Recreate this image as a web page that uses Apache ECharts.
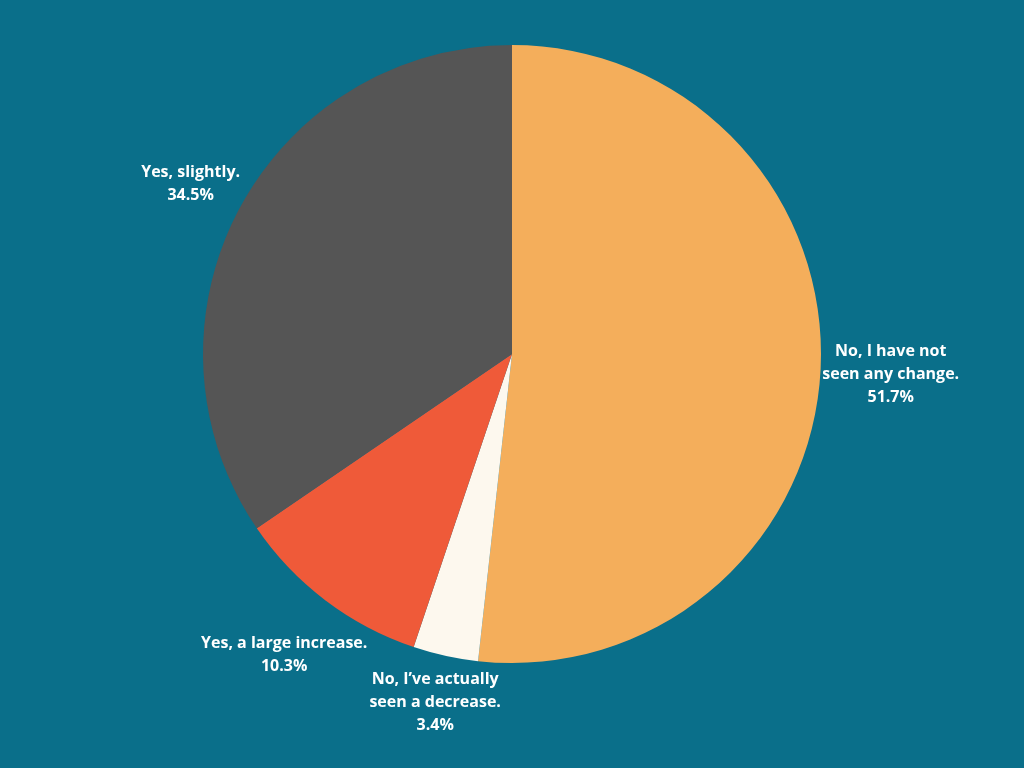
<!DOCTYPE html>
<html>
<head>
<meta charset="utf-8">
<script src="https://cdn.jsdelivr.net/npm/echarts@6/dist/echarts.min.js"></script>
<style>
  html, body { margin: 0; padding: 0; background: #0a6f8a; }
  #pieChart { width: 1024px; height: 768px; }
</style>
</head>
<body>
<div id="pieChart"></div>
<script>
// answers, clockwise from the top
const categories = [
  'No, I have not\nseen any change.',
  'No, I\u2019ve actually\nseen a decrease.',
  'Yes, a large increase.',
  'Yes, slightly.'
]
const shares = [51.7, 3.4, 10.3, 34.5]
const colors = ['#f4ae5b', '#fdf8ee', '#ef5a39', '#555555']

const CX = 512
const CY = 354
const R = 309

const total = shares.reduce((a, b) => a + b, 0)

// mid angle of a slice (degrees, math orientation)
function midAngle (idx) {
  let before = 0
  for (let i = 0; i < idx; i++) before += shares[i]
  const mid = before + shares[idx] / 2
  return 90 - mid / total * 360
}

const myChart = echarts.init(document.getElementById('pieChart'))
myChart.setOption({
  backgroundColor: '#0a6f8a',
  animation: false,
  series: [
    {
      type: 'pie',
      center: [CX, CY],
      radius: R,
      startAngle: 90,
      clockwise: true,
      data: categories.map((name, i) => ({
        name: name,
        value: shares[i],
        itemStyle: { color: colors[i] }
      })),
      label: {
        show: true,
        position: 'outside',
        color: '#ffffff',
        fontFamily: 'Open Sans',
        fontWeight: 'bold',
        fontSize: 16,
        lineHeight: 23,
        formatter: (p) => p.name + '\n' + p.value + '%'
      },
      labelLine: { show: false },
      labelLayout: (params) => {
        const a = midAngle(params.dataIndex) * Math.PI / 180
        const w = params.labelRect.width
        const h = params.labelRect.height
        const ext = Math.abs(Math.cos(a)) * w / 2 + Math.abs(Math.sin(a)) * h / 2
        const d = R + ext
        return {
          x: CX + d * Math.cos(a),
          y: CY - d * Math.sin(a),
          align: 'center',
          verticalAlign: 'middle'
        }
      }
    }
  ]
})
</script>
</body>
</html>
